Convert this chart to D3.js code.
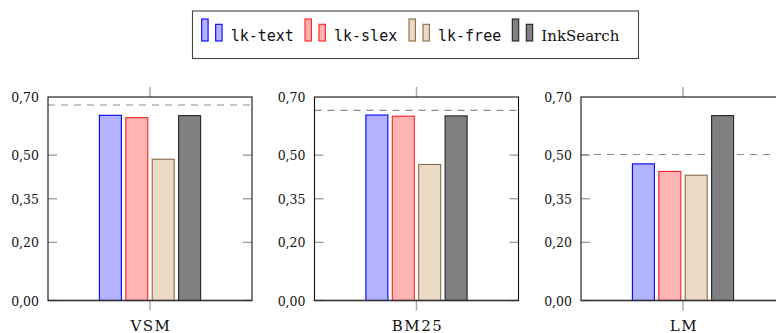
<!DOCTYPE html>
<html>
<head>
<meta charset="utf-8">
<script src="https://cdn.jsdelivr.net/npm/d3@7"></script>
<style>
  html, body { margin: 0; padding: 0; background: #fff; }
  svg { display: block; }
</style>
</head>
<body>
<svg id="chart" width="776" height="333"></svg>
<script>
// ---- data ----
const categories = ["VSM", "BM25", "LM"];
const seriesNames = ["lk-text", "lk-slex", "lk-free", "InkSearch"];
const lkText    = [0.637, 0.638, 0.470];
const lkSlex    = [0.629, 0.634, 0.444];
const lkFree    = [0.486, 0.468, 0.431];
const inkSearch = [0.636, 0.635, 0.636];
const reference = [0.6725, 0.654, 0.502];
const yTicks = [0, 0.20, 0.35, 0.50, 0.70];
const yTickLabels = ["0,00", "0,20", "0,35", "0,50", "0,70"];

const seriesValues = [lkText, lkSlex, lkFree, inkSearch];
const fills   = ["#b3b3ff", "#ffb3b3", "#ead9c4", "#808080"];
const strokes = ["#0000ff", "#ff2020", "#8a6a48", "#222222"];
const monoSeries = [true, true, true, false];

const svg = d3.select("#chart");

// ---- scales ----
const panelX = d3.scaleBand().domain(categories).range([48, 785]).paddingInner(0.2345).paddingOuter(0);
const y = d3.scaleLinear().domain([0, 0.7]).range([300.5, 97]);
const barX = d3.scaleBand().domain(seriesNames).range([-52.8, 52.8]).paddingInner(0.167).paddingOuter(0.083);

const serif = "DejaVu Serif";
const mono = "DejaVu Sans Mono";

categories.forEach((cat, ci) => {
  const x0 = panelX(cat);
  const w = panelX.bandwidth();
  const cx = x0 + w / 2;
  const g = svg.append("g");

  // y ticks (inside, left and right)
  const tickG = g.append("g");
  yTicks.forEach((t) => {
    if (t === 0.7) return;
    tickG.append("line").attr("x1", x0).attr("x2", x0 + 9).attr("y1", y(t)).attr("y2", y(t))
      .attr("stroke", "#999").attr("stroke-width", 1.3);
    tickG.append("line").attr("x1", x0 + w - 9).attr("x2", x0 + w).attr("y1", y(t)).attr("y2", y(t))
      .attr("stroke", "#999").attr("stroke-width", 1.3);
  });

  // y tick labels via axis
  const axis = d3.axisLeft(y).tickValues(yTicks).tickFormat((d, i) => yTickLabels[i]).tickSize(0).tickPadding(9);
  const ag = g.append("g").attr("transform", `translate(${x0},0)`).call(axis);
  ag.attr("font-family", null).attr("font-size", null);
  ag.select(".domain").remove();
  ag.selectAll("text").style("font-family", serif).style("font-size", "12.5px").attr("fill", "#111").attr("dy", "0.36em");

  // x ticks (outside, top and bottom) at category centre
  g.append("line").attr("x1", cx).attr("x2", cx).attr("y1", y(0.7) - 10).attr("y2", y(0.7))
    .attr("stroke", "#aaa").attr("stroke-width", 1.5);
  g.append("line").attr("x1", cx).attr("x2", cx).attr("y1", y(0)).attr("y2", y(0) + 10)
    .attr("stroke", "#aaa").attr("stroke-width", 1.5);

  // reference dashed line
  g.append("line").attr("x1", x0).attr("x2", x0 + w).attr("y1", y(reference[ci])).attr("y2", y(reference[ci]))
    .attr("stroke", "#8c8c8c").attr("stroke-width", 1.1).attr("stroke-dasharray", "7,6");

  // bars
  seriesNames.forEach((s, si) => {
    const v = seriesValues[si][ci];
    g.append("rect")
      .attr("x", cx + barX(s)).attr("width", barX.bandwidth())
      .attr("y", y(v)).attr("height", y(0) - y(v))
      .attr("fill", fills[si]).attr("stroke", strokes[si]).attr("stroke-width", 1.1);
  });

  // frame
  g.append("rect").attr("x", x0).attr("y", y(0.7)).attr("width", w).attr("height", y(0) - y(0.7))
    .attr("fill", "none").attr("stroke", "#111").attr("stroke-width", 1.1);
  g.append("line").attr("x1", x0).attr("x2", x0 + w).attr("y1", y(0)).attr("y2", y(0))
    .attr("stroke", "#333").attr("stroke-width", 1.6);

  // category label
  g.append("text").attr("x", cx + 1).attr("y", 330.5).attr("text-anchor", "middle")
    .style("font-family", serif).style("font-size", "15px").attr("letter-spacing", "1.5px").attr("fill", "#111")
    .text(cat);
});

// ---- legend ----
const legendEntryX = [201.7, 305, 409, 512.3];
const lg = svg.append("g");
lg.append("rect").attr("x", 192.5).attr("y", 11).attr("width", 446).attr("height", 47.5)
  .attr("fill", "#fff").attr("stroke", "#444").attr("stroke-width", 1.1);
seriesNames.forEach((s, si) => {
  const ex = legendEntryX[si];
  lg.append("rect").attr("x", ex).attr("y", 19).attr("width", 6.4).attr("height", 22)
    .attr("fill", fills[si]).attr("stroke", strokes[si]).attr("stroke-width", 1.1);
  lg.append("rect").attr("x", ex + 14).attr("y", 24.3).attr("width", 6.4).attr("height", 16.7)
    .attr("fill", fills[si]).attr("stroke", strokes[si]).attr("stroke-width", 1.1);
  lg.append("text").attr("x", ex + 29).attr("y", 41)
    .style("font-family", monoSeries[si] ? mono : serif)
    .style("font-size", monoSeries[si] ? "15px" : "15px")
    .attr("fill", "#111")
    .text(s);
});
</script>
</body>
</html>
